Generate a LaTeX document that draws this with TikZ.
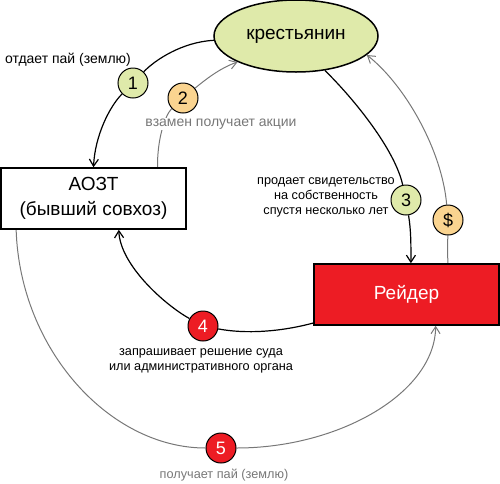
\documentclass[tikz,border=0pt]{standalone}
\usepackage{fontspec}
\setmainfont{Liberation Sans}
\usetikzlibrary{shapes.geometric,arrows.meta,backgrounds}
\definecolor{paleGreen}{HTML}{DFEAAA}
\definecolor{paleOrange}{HTML}{FAD490}
\definecolor{raidRed}{HTML}{ED1C24}
\definecolor{lineGray}{HTML}{777777}
\begin{document}
\begin{tikzpicture}[x=1pt,y=-1pt,
	num/.style={circle,draw,line width=1pt,minimum size=30pt,inner sep=0pt,font=\fontsize{18}{18}\selectfont},
	box/.style={draw,line width=1.5pt,minimum width=185pt,minimum height=61pt,inner sep=0pt,align=center,font=\fontsize{19}{25}\selectfont},
	blk/.style={-{Straight Barb[length=7pt,width=9pt]},line width=1.2pt},
	gry/.style={blk,lineGray,line width=1pt},
	lbl/.style={font=\fontsize{14}{15}\selectfont,align=center},
	sml/.style={lbl,font=\fontsize{12.7}{15}\selectfont}]
	\useasboundingbox (0,0) rectangle (500,483);
	\node[ellipse,draw,line width=1.5pt,fill=paleGreen,minimum width=164pt,minimum height=72pt,inner sep=0pt,font=\fontsize{19}{19}\selectfont] (kr) at (296,36) {крестьянин};
	\node[box,fill=white] (aozt) at (93.5,198.5) {АОЗТ\\(бывший совхоз)};
	\node[box,fill=raidRed,text=white] (rd) at (406.5,294.5) {Рейдер};
	\node[num,fill=paleGreen] (c1) at (133,83) {1};
	\node[num,fill=paleOrange] (c2) at (183,98) {2};
	\node[num,fill=paleGreen] (c3) at (406,200) {3};
	\node[num,fill=paleOrange] (cd) at (448,220) {\$};
	\node[num,fill=raidRed,text=white] (c4) at (203,326) {4};
	\node[num,fill=raidRed,text=white] (c5) at (221,448) {5};
	\node[lbl] (t1) at (68,60) {отдает пай (землю)};
	\node[lbl,text=lineGray,fill=white,inner sep=1pt] (t2) at (221,124) {взамен получает акции};
	\node[sml] (t3) at (326,197.5) {продает свидетельство\\на собственность\\спустя несколько лет};
	\node[sml] (t4) at (201,361) {запрашивает решение суда\\или административного органа};
	\node[sml,text=lineGray] (t5) at (224,475) {получает пай (землю)};
	\begin{scope}[on background layer]
	\draw[blk] (kr.183) .. controls (182,42) and (155,60) .. (c1) .. controls (110,106) and (95,135) .. (aozt.north);
	\draw[gry] (aozt.26) .. controls (157,140) and (165,115) .. (c2) .. controls (205,80) and (220,68) .. (kr.204);
	\draw[blk] (kr.-50) .. controls (355,100) and (395,150) .. (c3) .. controls (411,230) and (411,245) .. (rd.82);
	\draw[gry] (rd.37) .. controls (447,245) and (448,235) .. (cd) .. controls (442,150) and (405,85) .. (kr.-15);
	\draw[blk] (rd.197) .. controls (280,332) and (245,334) .. (c4) .. controls (165,305) and (120,265) .. (aozt.-51);
	\draw[gry] (aozt.202) .. controls (20,350) and (110,448) .. (c5) .. controls (339,448) and (435,393) .. (rd.-47);
	\end{scope}
\end{tikzpicture}
\end{document}
